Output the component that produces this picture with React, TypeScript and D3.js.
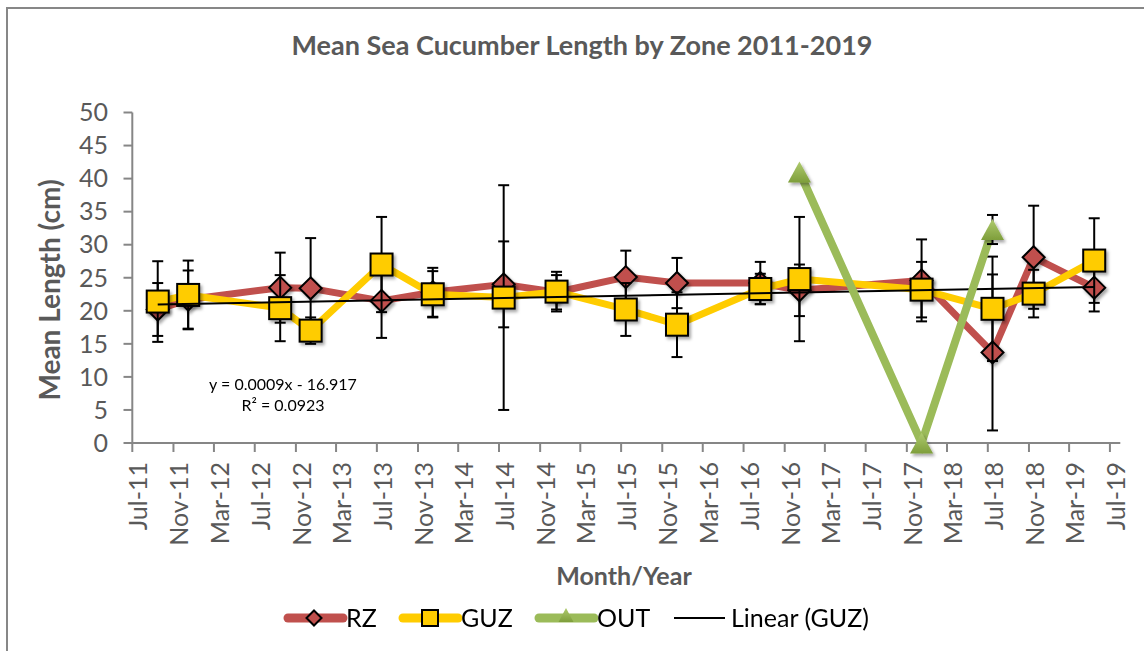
import * as d3 from 'd3'

const sampleDates = [
  '2011-09-15', '2011-12-15', '2012-09-15', '2012-12-15', '2013-07-15', '2013-12-15',
  '2014-07-15', '2014-12-20', '2015-07-15', '2015-12-15', '2016-08-20', '2016-12-15',
  '2017-12-15', '2018-07-15', '2018-11-15', '2019-05-15',
]
const rz = [20.2, 21.7, 23.5, 23.4, 21.5, 22.8, 24.0, 22.8, 25.1, 24.2, 24.2, 23.1, 24.6, 13.7, 28.1, 23.5]
const rzErr = [4.0, 4.4, 5.3, 7.6, 5.6, 3.7, 6.5, 2.6, 4.0, 3.8, 3.2, 3.9, 6.2, 11.8, 7.8, 3.6]
const guz = [21.4, 22.4, 20.4, 17.0, 27.0, 22.5, 22.0, 22.9, 20.2, 17.9, 23.3, 24.8, 23.2, 20.3, 22.6, 27.6]
const guzErr = [6.1, 5.2, 5.0, 2.0, 7.2, 3.5, 17.0, 3.0, 4.0, 4.9, 2.3, 9.4, 4.2, 7.9, 3.6, 6.4]
const out: (number | null)[] = [null, null, null, null, null, null, null, null, null, null, null, 41.0, 0, 32.3, null, null]
const outErr = [0, 0, 0, 0, 0, 0, 0, 0, 0, 0, 0, 0, 0, 2.2, 0, 0]
const yTicks = [0, 5, 10, 15, 20, 25, 30, 35, 40, 45, 50]

const W = 1144
const H = 651
const FONT = 'Lato, "Open Sans", sans-serif'
const GREY = '#595959'
const AXIS = '#868686'
const RED = '#C0504D'
const GOLD = '#FFCC00'
const GREEN = '#9BBB59'

const parse = d3.timeParse('%Y-%m-%d')
const dates = sampleDates.map((s) => parse(s) as Date)
const xStart = new Date(2011, 6, 1)
const xEnd = new Date(2019, 7, 1)
const x = d3.scaleTime().domain([xStart, xEnd]).range([132.3, 1120.3])
const y = d3.scaleLinear().domain([0, 50]).range([443, 112.5])
const xTicks = d3.timeMonth.range(xStart, new Date(2019, 6, 2), 4)
const fmt = d3.timeFormat('%b-%y')

type Pt = { d: Date; v: number; e: number }
const pts = (vals: (number | null)[], errs: number[]): Pt[] =>
  vals
    .map((v, i) => ({ d: dates[i], v: v as number, e: errs[i], ok: v != null }))
    .filter((p) => p.ok)
    .map(({ d, v, e }) => ({ d, v, e }))

const rzPts = pts(rz, rzErr)
const guzPts = pts(guz, guzErr)
const outPts = pts(out, outErr)

const lineGen = d3
  .line<Pt>()
  .x((p) => x(p.d))
  .y((p) => y(p.v))

// least squares fit of GUZ, same as Excel's linear trendline
function fit(ps: Pt[]) {
  const xs = ps.map((p) => +p.d)
  const ys = ps.map((p) => p.v)
  const mx = d3.mean(xs) as number
  const my = d3.mean(ys) as number
  let sxy = 0
  let sxx = 0
  xs.forEach((xv, i) => {
    sxy += (xv - mx) * (ys[i] - my)
    sxx += (xv - mx) * (xv - mx)
  })
  const b = sxy / sxx
  return (t: number) => my + b * (t - mx)
}
const trend = fit(guzPts)
const tFirst = +guzPts[0].d
const tLast = +guzPts[guzPts.length - 1].d

const diamond = (s: number) => `M0,${-s}L${s},0L0,${s}L${-s},0Z`
const triangle = (w: number, h: number) => `M0,${-h / 2}L${w / 2},${h / 2}L${-w / 2},${h / 2}Z`

function ErrorBars({ data }: { data: Pt[] }) {
  return (
    <g stroke="#000" strokeWidth={2}>
      {data
        .filter((p) => p.e > 0)
        .map((p, i) => {
          const cx = x(p.d)
          const y1 = y(p.v + p.e)
          const y2 = y(p.v - p.e)
          return (
            <g key={i}>
              <line x1={cx} x2={cx} y1={y1} y2={y2} />
              <line x1={cx - 5.5} x2={cx + 5.5} y1={y1} y2={y1} />
              <line x1={cx - 5.5} x2={cx + 5.5} y1={y2} y2={y2} />
            </g>
          )
        })}
    </g>
  )
}

export default function App() {
  return (
    <svg
      width={W}
      height={H}
      viewBox={`0 0 ${W} ${H}`}
      style={{ position: 'absolute', left: 0, top: 0, background: '#fff' }}
      fontFamily={FONT}
    >
      <defs>
        <filter id="sh" x="-60%" y="-60%" width="220%" height="220%">
          <feDropShadow dx="2" dy="2.5" stdDeviation="1.6" floodColor="#000" floodOpacity="0.35" />
        </filter>
        <linearGradient id="gr" x1="0" y1="0" x2="0" y2="1">
          <stop offset="0" stopColor="#AFCB6E" />
          <stop offset="1" stopColor="#7E9E3B" />
        </linearGradient>
      </defs>

      <rect x={7} y={8} width={W} height={H} fill="#fff" stroke="#878787" strokeWidth={2} />

      <text x={582} y={55} textAnchor="middle" fontSize={27} fontWeight="bold" fill={GREY}>
        Mean Sea Cucumber Length by Zone 2011-2019
      </text>

      {/* y axis */}
      <line x1={132.3} x2={132.3} y1={y(50)} y2={y(0)} stroke={AXIS} strokeWidth={2} />
      {yTicks.map((t) => (
        <g key={t}>
          <line x1={123.5} x2={132.3} y1={y(t)} y2={y(t)} stroke={AXIS} strokeWidth={2} />
          <text x={108} y={y(t)} dy="0.35em" textAnchor="end" fontSize={25} fill={GREY}>
            {t}
          </text>
        </g>
      ))}
      <text
        transform="translate(60,290) rotate(-90)"
        textAnchor="middle"
        fontSize={28}
        fontWeight="bold"
        fill={GREY}
      >
        Mean Length (cm)
      </text>

      {/* x axis */}
      <line x1={x(xStart)} x2={x(xEnd)} y1={443} y2={443} stroke={AXIS} strokeWidth={2} />
      {xTicks.map((t, i) => (
        <g key={i}>
          <line x1={x(t)} x2={x(t)} y1={443} y2={452} stroke={AXIS} strokeWidth={2} />
          <text
            transform={`translate(${x(t) + 15},462) rotate(-90)`}
            textAnchor="end"
            fontSize={25}
            fill={GREY}
          >
            {fmt(t)}
          </text>
        </g>
      ))}
      <text x={624} y={585} textAnchor="middle" fontSize={25} fontWeight="bold" fill={GREY}>
        Month/Year
      </text>

      {/* RZ */}
      <path d={lineGen(rzPts) ?? ''} fill="none" stroke={RED} strokeWidth={7} strokeLinejoin="round" />
      <ErrorBars data={rzPts} />
      <g filter="url(#sh)">
        {rzPts.map((p, i) => (
          <path
            key={i}
            d={diamond(11)}
            transform={`translate(${x(p.d)},${y(p.v)})`}
            fill={RED}
            stroke="#000"
            strokeWidth={2}
          />
        ))}
      </g>

      {/* GUZ */}
      <path d={lineGen(guzPts) ?? ''} fill="none" stroke={GOLD} strokeWidth={7} strokeLinejoin="round" />
      <ErrorBars data={guzPts} />
      <g filter="url(#sh)">
        {guzPts.map((p, i) => (
          <rect
            key={i}
            x={x(p.d) - 11}
            y={y(p.v) - 11}
            width={22}
            height={22}
            fill={GOLD}
            stroke="#000"
            strokeWidth={2}
          />
        ))}
      </g>

      {/* Linear (GUZ) */}
      <line
        x1={x(new Date(tFirst))}
        x2={x(new Date(tLast))}
        y1={y(trend(tFirst))}
        y2={y(trend(tLast))}
        stroke="#000"
        strokeWidth={2}
      />

      {/* OUT */}
      <path d={lineGen(outPts) ?? ''} fill="none" stroke={GREEN} strokeWidth={8} strokeLinejoin="miter" />
      <ErrorBars data={outPts} />
      <g filter="url(#sh)">
        {outPts.map((p, i) => (
          <path
            key={i}
            d={triangle(23, 21)}
            transform={`translate(${x(p.d)},${y(p.v)})`}
            fill="url(#gr)"
          />
        ))}
      </g>

      <text x={283} y={390} textAnchor="middle" fontSize={16} fill="#000">
        y = 0.0009x - 16.917
      </text>
      <text x={283} y={411} textAnchor="middle" fontSize={16} fill="#000">
        R² = 0.0923
      </text>

      {/* legend */}
      <g fontSize={25} fill="#000">
        <line x1={288} x2={343} y1={618} y2={618} stroke={RED} strokeWidth={9} strokeLinecap="round" />
        <path d={diamond(7.5)} transform="translate(314,618)" fill={RED} stroke="#000" strokeWidth={2} />
        <text x={346} y={627}>RZ</text>

        <line x1={403} x2={458} y1={618} y2={618} stroke={GOLD} strokeWidth={9} strokeLinecap="round" />
        <rect x={422} y={610} width={16} height={16} fill={GOLD} stroke="#000" strokeWidth={2} />
        <text x={461} y={627}>GUZ</text>

        <line x1={539} x2={594} y1={618} y2={618} stroke={GREEN} strokeWidth={9} strokeLinecap="round" />
        <path d={triangle(15, 14)} transform="translate(566,615)" fill="url(#gr)" />
        <text x={597} y={627}>OUT</text>

        <line x1={674} x2={725} y1={618} y2={618} stroke="#000" strokeWidth={2} />
        <text x={731} y={627}>Linear (GUZ)</text>
      </g>
    </svg>
  )
}
